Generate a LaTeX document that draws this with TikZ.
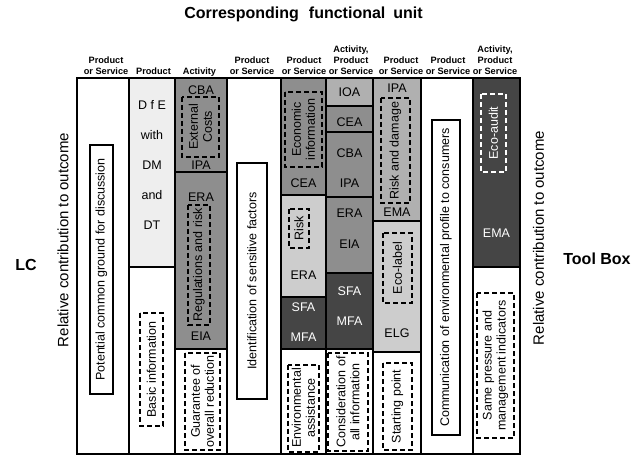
\documentclass[tikz,border=0pt]{standalone}
\usepackage{fontspec}
\setmainfont{Liberation Sans}
\newcommand\lblfont{\fontsize{12.5}{14}\selectfont}
\newcommand\hdrfont{\bfseries\fontsize{9.2}{11}\selectfont}
\newcommand\sidefont{\fontsize{15}{18}\selectfont}
\newcommand\titlefont{\bfseries\fontsize{16}{18}\selectfont}
\definecolor{lightfill}{HTML}{EEEEEE}
\definecolor{midfill}{HTML}{8E8E8E}
\definecolor{palefill}{HTML}{B0B0B0}
\definecolor{softfill}{HTML}{CDCDCD}
\definecolor{darkfill}{HTML}{454545}
\begin{document}
\begin{tikzpicture}[x=1pt,y=-1pt,
  cell/.style={draw, line width=2.6pt},
  solidbox/.style={draw, line width=2pt, rotate=90, inner sep=0pt, align=center, font=\lblfont},
  dashbox/.style={draw, line width=2pt, dash pattern=on 5pt off 3pt, rotate=90, inner sep=0pt, align=center, font=\lblfont},
  lbl/.style={font=\lblfont, inner sep=0pt},
  wlbl/.style={lbl, text=white},
  hdr/.style={font=\hdrfont, align=center, anchor=south, text depth=0pt, inner sep=0pt},
  side/.style={font=\sidefont, rotate=90, inner sep=0pt},
  bold/.style={font=\titlefont, inner sep=0pt},
]
\useasboundingbox (0,0) rectangle (635,457);

% title and column headers
\node[bold] (title) at (303.5,14) {Corresponding\hspace{10pt}functional\hspace{8pt}unit};
\node[hdr] (h1) at (106,75) {Product\\or Service};
\node[hdr] (h2) at (153.5,75) {Product};
\node[hdr] (h3) at (199.5,75) {Activity};
\node[hdr] (h4) at (252,75) {Product\\or Service};
\node[hdr] (h5) at (304,75) {Product\\or Service};
\node[hdr] (h6) at (351,75) {Activity,\\Product\\or Service};
\node[hdr] (h7) at (401,75) {Product\\or Service};
\node[hdr] (h8) at (448,75) {Product\\or Service};
\node[hdr] (h9) at (495,75) {Activity,\\Product\\or Service};

% column 1
\draw[cell, fill=white] (77,78) rectangle (129,454);
% column 2
\draw[cell, fill=lightfill] (129,78) rectangle (175,267);
\draw[cell, fill=white] (129,267) rectangle (175,454);
% column 3
\draw[cell, fill=midfill] (175,78) rectangle (227,172);
\draw[cell, fill=midfill] (175,172) rectangle (227,349);
\draw[cell, fill=white] (175,349) rectangle (227,454);
% column 4
\draw[cell, fill=white] (227,78) rectangle (281,454);
% column 5
\draw[cell, fill=midfill] (281,78) rectangle (326,195);
\draw[cell, fill=softfill] (281,195) rectangle (326,297);
\draw[cell, fill=darkfill] (281,297) rectangle (326,349);
\draw[cell, fill=white] (281,349) rectangle (326,454);
% column 6
\draw[cell, fill=palefill] (326,78) rectangle (373,106);
\draw[cell, fill=midfill] (326,106) rectangle (373,132);
\draw[cell, fill=midfill] (326,132) rectangle (373,197);
\draw[cell, fill=midfill] (326,197) rectangle (373,273);
\draw[cell, fill=darkfill] (326,273) rectangle (373,349);
\draw[cell, fill=white] (326,349) rectangle (373,454);
% column 7
\draw[cell, fill=palefill] (373,78) rectangle (421,221);
\draw[cell, fill=softfill] (373,221) rectangle (421,352);
\draw[cell, fill=white] (373,352) rectangle (421,454);
% column 8
\draw[cell, fill=white] (421,78) rectangle (473,454);
% column 9
\draw[cell, fill=darkfill] (473,78) rectangle (520,267);
\draw[cell, fill=white] (473,267) rectangle (520,454);

% column 1 contents
\node[solidbox, minimum width=249pt, minimum height=23pt] (ground) at (101.5,269.5) {Potential common ground for discussion};
% column 2 contents
\node[lbl] (dfe) at (152,105) {D f E};
\node[lbl] (with) at (152,135) {with};
\node[lbl] (dm) at (152,165) {DM};
\node[lbl] (and) at (152,195) {and};
\node[lbl] (dt) at (152,225) {DT};
\node[dashbox, minimum width=113pt, minimum height=23pt] (basic) at (151.5,369.5) {Basic information};
% column 3 contents
\node[lbl] (cba3) at (201,90) {CBA};
\node[dashbox, minimum width=60pt, minimum height=37pt] (extcost) at (200.5,127) {External\\Costs};
\node[lbl] (ipa3) at (201,165) {IPA};
\node[lbl] (era3) at (201,197) {ERA};
\node[dashbox, minimum width=120pt, minimum height=22pt] (regrisk) at (199,265) {Regulations and risk};
\node[lbl] (eia3) at (201,336) {EIA};
\node[dashbox, minimum width=97pt, minimum height=35pt] (guarantee) at (202.5,401.5) {Guarantee of\\overall reduction};
% column 4 contents
\node[solidbox, minimum width=236pt, minimum height=30pt] (sensitive) at (252,281) {Identification of sensitive factors};
% column 5 contents
\node[dashbox, minimum width=75pt, minimum height=37pt] (econ) at (303.5,129.5) {Economic\\information};
\node[lbl] (cea5) at (303.5,183) {CEA};
\node[dashbox, minimum width=39pt, minimum height=20pt] (risk5) at (299,228.5) {Risk};
\node[lbl] (era5) at (303.5,275) {ERA};
\node[wlbl] (sfa5) at (303.5,307) {SFA};
\node[wlbl] (mfa5) at (303.5,337) {MFA};
\node[dashbox, minimum width=87pt, minimum height=31pt] (envassist) at (303.5,408) {Environmental\\assistance};
% column 6 contents
\node[lbl] (ioa6) at (349.5,92) {IOA};
\node[lbl] (cea6) at (349.5,122) {CEA};
\node[lbl] (cba6) at (349.5,153) {CBA};
\node[lbl] (ipa6) at (349.5,183) {IPA};
\node[lbl] (era6) at (349.5,213) {ERA};
\node[lbl] (eia6) at (349.5,244) {EIA};
\node[wlbl] (sfa6) at (349.5,291) {SFA};
\node[wlbl] (mfa6) at (349.5,321) {MFA};
\node[dashbox, minimum width=98pt, minimum height=40pt] (allinfo) at (348,402) {Consideration of\\all information};
% column 7 contents
\node[lbl] (ipa7) at (397,88) {IPA};
\node[dashbox, minimum width=105pt, minimum height=29pt] (damage) at (395.5,150.5) {Risk and damage};
\node[lbl] (ema7) at (397,212) {EMA};
\node[dashbox, minimum width=70pt, minimum height=29pt] (ecolabel) at (397.5,268) {Eco-label};
\node[lbl] (elg7) at (397,333) {ELG};
\node[dashbox, minimum width=87pt, minimum height=29pt] (start) at (397.5,406.5) {Starting point};
% column 8 contents
\node[solidbox, minimum width=315pt, minimum height=28pt] (profile) at (446,277.5) {Communication of environmental profile to consumers};
% column 9 contents
\node[dashbox, draw=white, text=white, minimum width=78pt, minimum height=25pt] (ecoaudit) at (493.5,133) {Eco-audit};
\node[wlbl] (ema9) at (496.5,233) {EMA};
\node[dashbox, minimum width=145pt, minimum height=37pt] (pressure) at (495.5,365.5) {Same pressure and\\management indicators};

% side labels
\node[side] (relleft) at (63,240) {Relative contribution to outcome};
\node[side] (relright) at (538.5,238) {Relative contribution to outcome};
\node[bold] (lc) at (26,265) {LC};
\node[bold] (toolbox) at (597,259) {Tool Box};
\end{tikzpicture}
\end{document}
